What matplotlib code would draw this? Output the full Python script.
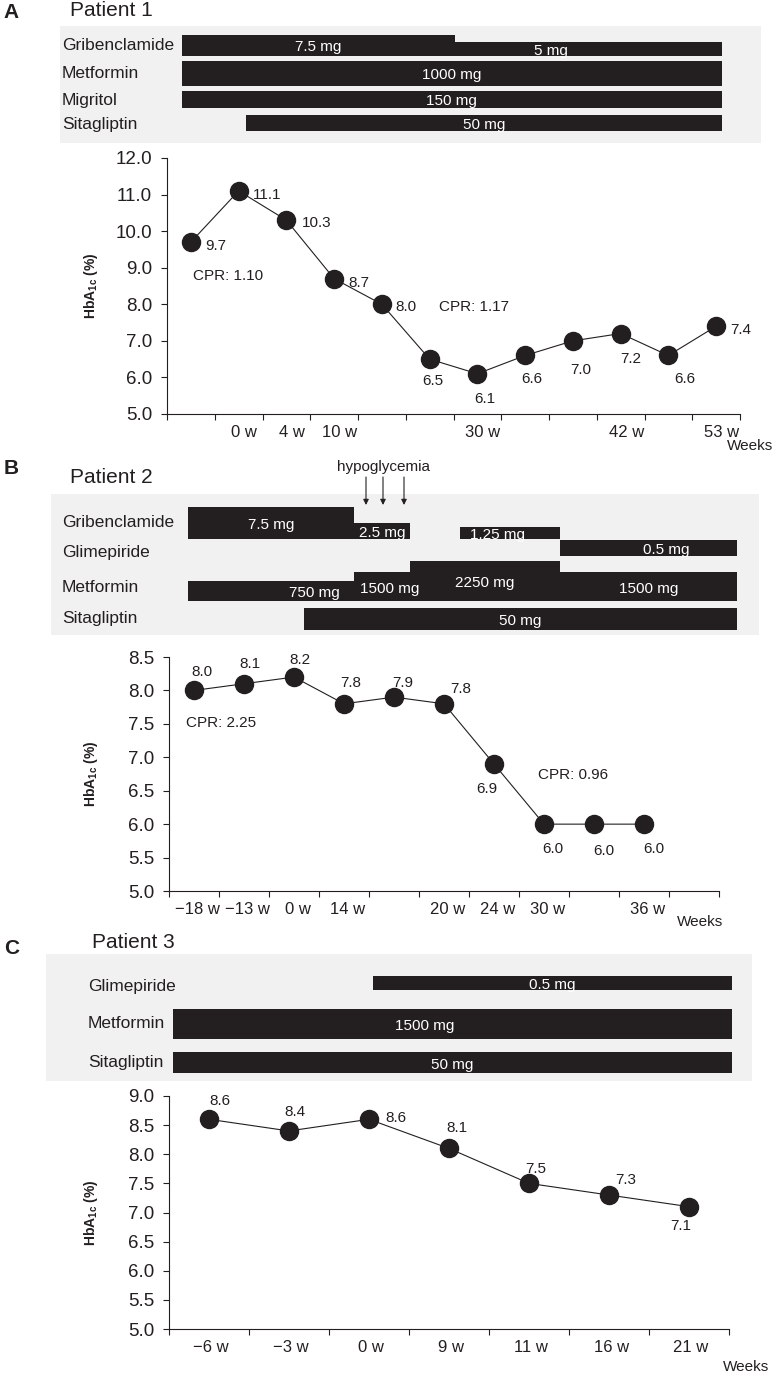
"""HbA1c course and drug regimens for three patients."""
import matplotlib.pyplot as plt
import numpy as np
from matplotlib.transforms import ScaledTranslation

plt.rcParams["font.family"] = ["Liberation Sans", "DejaVu Sans"]
plt.rcParams["mathtext.fontset"] = "custom"
plt.rcParams["mathtext.rm"] = "Liberation Sans"
plt.rcParams["mathtext.bf"] = "Liberation Sans:bold"

W, H = 775, 1373
INK = "#231f20"
BOX = "#f1f1f2"

# ---- Patient 1 ----
p1_weeks = ["", "0 w", "4 w", "10 w", "", "", "30 w", "", "", "42 w", "", "53 w"]
p1_hba1c = [9.7, 11.1, 10.3, 8.7, 8.0, 6.5, 6.1, 6.6, 7.0, 7.2, 6.6, 7.4]
p1_cpr = ["CPR: 1.10", "CPR: 1.17"]
p1_drugs = ["Gribenclamide", "Metformin", "Migritol", "Sitagliptin"]
p1_seg_drug = [0, 0, 1, 2, 3]
p1_seg_start = [-0.19, 5.53, -0.19, -0.19, 1.15]
p1_seg_end = [5.53, 11.12, 11.12, 11.12, 11.12]
p1_seg_dose = ["7.5 mg", "5 mg", "1000 mg", "150 mg", "50 mg"]

# ---- Patient 2 ----
p2_weeks = ["\u221218 w", "\u221213 w", "0 w", "14 w", "", "20 w", "24 w", "30 w", "", "36 w", ""]
p2_hba1c = [8.0, 8.1, 8.2, 7.8, 7.9, 7.8, 6.9, 6.0, 6.0, 6.0]
p2_cpr = ["CPR: 2.25", "CPR: 0.96"]
p2_drugs = ["Gribenclamide", "Glimepiride", "Metformin", "Sitagliptin"]
p2_seg_drug = [0, 0, 0, 1, 2, 2, 2, 2, 3]
p2_seg_start = [-0.12, 3.2, 5.32, 7.32, -0.12, 3.2, 4.32, 7.32, 2.2]
p2_seg_end = [3.2, 4.32, 7.32, 10.86, 3.2, 4.32, 7.32, 10.86, 10.86]
p2_seg_dose = ["7.5 mg", "2.5 mg", "1.25 mg", "0.5 mg", "750 mg", "1500 mg",
               "2250 mg", "1500 mg", "50 mg"]
p2_hypo_at = [3.44, 3.78, 4.2]

# ---- Patient 3 ----
p3_weeks = ["\u22126 w", "\u22123 w", "0 w", "9 w", "11 w", "16 w", "21 w"]
p3_hba1c = [8.6, 8.4, 8.6, 8.1, 7.5, 7.3, 7.1]
p3_drugs = ["Glimepiride", "Metformin", "Sitagliptin"]
p3_seg_drug = [0, 1, 2]
p3_seg_start = [2.05, -0.45, -0.45]
p3_seg_end = [6.54, 6.54, 6.54]
p3_seg_dose = ["0.5 mg", "1500 mg", "50 mg"]

# layout (pixels from top-left) and label placement
LAY1 = dict(box=(60, 26, 761, 143), chart=(167, 158, 740, 414), ylim=(5, 12), ystep=1.0,
            row_bottom=[56, 86, 108, 131], row_label_y=[45, 73, 100, 124], label_x=62,
            seg_h=[21, 14, 25, 17, 16], seg_frac=[0.5, 0.36, 0.5, 0.5, 0.5],
            off=[(10, -3), (10, -3), (11, -2), (10, -3), (10, -2), (2, -16), (5, -18),
                 (5, -17), (6, -21), (7, -18), (12, -17), (10, -3)],
            cpr_xy=[(0.04, 8.77), (5.2, 7.93)], xshift=4,
            letter=("A", 3, 13), title=("Patient 1", 70, 11), weeks=(727, 446))
LAY2 = dict(box=(51, 494, 759, 635), chart=(169, 657, 719, 891), ylim=(5, 8.5), ystep=0.5,
            row_bottom=[539, 556, 601, 630], row_label_y=[523, 553, 587, 619], label_x=62,
            seg_h=[32, 16, 12, 16, 20, 29, 40, 29, 22],
            seg_frac=[0.5, 0.5, 0.37, 0.6, 0.76, 0.63, 0.5, 0.5, 0.5],
            off=[(6, 13), (4, 14), (4, 12), (5, 15), (6, 10), (12, 11), (-5, -18),
                 (6, -18), (7, -19), (7, -18)],
            cpr_xy=[(-0.16, 7.51), (6.88, 6.73)], xshift=2.5,
            letter=("B", 4, 469), title=("Patient 2", 70, 477), weeks=(677, 922))
LAY3 = dict(box=(46, 954, 752, 1081), chart=(169, 1096, 729, 1329), ylim=(5, 9), ystep=0.5,
            row_bottom=[990, 1039, 1073], row_label_y=[986, 1023, 1062], label_x=88,
            seg_h=[14, 30, 21], seg_frac=[0.5, 0.45, 0.5],
            off=[(8, 13), (4, 14), (12, 1), (6, 15), (5, 10), (12, 11), (-6, -14)],
            cpr_xy=[], xshift=1.5,
            letter=("C", 4, 948), title=("Patient 3", 92, 943), weeks=(723, 1367))


def px_axes(fig, left, top, right, bottom):
    return fig.add_axes([left / W, 1 - bottom / H, (right - left) / W, (bottom - top) / H])


def px_text(fig, x, y, s, **kw):
    return fig.text(x / W, 1 - y / H, s, **kw)


def draw_chart(fig, lay, weeks, values, cpr):
    ax = px_axes(fig, *lay["chart"])
    n = len(weeks)
    xs = np.arange(len(values))
    ax.plot(xs, values, color=INK, lw=0.8, marker="o", ms=13, mfc=INK, mec=INK,
            clip_on=False, zorder=3)
    ax.set_xlim(-0.5, n - 0.5)
    ax.set_ylim(lay["ylim"])

    ax.set_xticks(np.arange(n))
    ax.set_xticklabels(weeks, fontsize=12, color=INK)
    ax.set_xticks(np.arange(n + 1) - 0.5, minor=True)
    ax.tick_params(axis="x", which="major", length=0, pad=8)
    ax.tick_params(axis="x", which="minor", length=4.3, width=0.8, color=INK)
    shift = ScaledTranslation(lay["xshift"] / 72, 0, fig.dpi_scale_trans)
    for lab in ax.get_xticklabels():
        lab.set_transform(lab.get_transform() + shift)

    lo, hi = lay["ylim"]
    yt = np.arange(lo, hi + 1e-9, lay["ystep"])
    ax.set_yticks(yt)
    ax.set_yticklabels([f"{v:.1f}" for v in yt], fontsize=13.5, color=INK)
    ax.tick_params(axis="y", length=4.3, width=0.8, color=INK, pad=6.5)

    for side in ("top", "right"):
        ax.spines[side].set_visible(False)
    for side in ("left", "bottom"):
        ax.spines[side].set_linewidth(0.8)
        ax.spines[side].set_color(INK)

    for i, v in enumerate(values):
        dx, dy = lay["off"][i]
        ax.annotate(f"{v:.1f}", (i, v), xytext=(dx, dy), textcoords="offset points",
                    ha="left" if abs(dy) < 5 else "center", va="center",
                    fontsize=11, color=INK)
    for s, (cx, cy) in zip(cpr, lay["cpr_xy"]):
        ax.text(cx, cy, s, fontsize=11, color=INK, ha="left", va="center")

    cl, ct, cr, cb = lay["chart"]
    px_text(fig, 91, (ct + cb) / 2, r"HbA$_{\mathbf{1c}}$ (%)", rotation=90,
            ha="center", va="center", fontsize=10, fontweight="bold", color=INK)
    px_text(fig, *lay["weeks"], "Weeks", ha="left", va="center", fontsize=11, color=INK)
    return ax


def draw_regimen(fig, lay, chart_ax, drugs, seg_drug, seg_start, seg_end, seg_dose):
    bl, bt, br, bb = lay["box"]
    cl, _, cr, _ = lay["chart"]
    x0, x1 = chart_ax.get_xlim()
    scale = (cr - cl) / (x1 - x0)
    ax = px_axes(fig, bl, bt, br, bb)
    ax.set_xlim(x0 - (cl - bl) / scale, x1 + (br - cr) / scale)
    ax.set_ylim(bb - bt, 0)
    ax.set_facecolor(BOX)
    ax.set_xticks([])
    ax.set_yticks([])
    for sp in ax.spines.values():
        sp.set_visible(False)

    for k, d in enumerate(seg_drug):
        base = lay["row_bottom"][d] - bt
        h = lay["seg_h"][k]
        ax.bar(seg_start[k], -h, width=seg_end[k] - seg_start[k], bottom=base,
               align="edge", color=INK, lw=0)
        tx = seg_start[k] + lay["seg_frac"][k] * (seg_end[k] - seg_start[k])
        ax.text(tx, base - h / 2 + 2, seg_dose[k], color="white", ha="center",
                va="center", fontsize=11)

    for name, y in zip(drugs, lay["row_label_y"]):
        px_text(fig, lay["label_x"], y, name, ha="left", va="center", fontsize=12.5, color=INK)

    letter, lx, ly = lay["letter"]
    px_text(fig, lx, ly, letter, ha="left", va="center", fontsize=15, fontweight="bold", color=INK)
    title, tx, ty = lay["title"]
    px_text(fig, tx, ty, title, ha="left", va="center", fontsize=15, color=INK)
    return ax


fig = plt.figure(figsize=(W / 100, H / 100), dpi=100)

ax1 = draw_chart(fig, LAY1, p1_weeks, p1_hba1c, p1_cpr)
draw_regimen(fig, LAY1, ax1, p1_drugs, p1_seg_drug, p1_seg_start, p1_seg_end, p1_seg_dose)

ax2 = draw_chart(fig, LAY2, p2_weeks, p2_hba1c, p2_cpr)
reg2 = draw_regimen(fig, LAY2, ax2, p2_drugs, p2_seg_drug, p2_seg_start, p2_seg_end, p2_seg_dose)
top2 = LAY2["box"][1]
for x in p2_hypo_at:
    reg2.annotate("", xy=(x, 505 - top2), xytext=(x, 477 - top2), annotation_clip=False,
                  arrowprops=dict(arrowstyle="-|>", lw=0.8, color=INK, mutation_scale=8,
                                  shrinkA=0, shrinkB=0))
px_text(fig, 384, 467, "hypoglycemia", ha="center", va="center", fontsize=11, color=INK)

ax3 = draw_chart(fig, LAY3, p3_weeks, p3_hba1c, [])
draw_regimen(fig, LAY3, ax3, p3_drugs, p3_seg_drug, p3_seg_start, p3_seg_end, p3_seg_dose)

fig.savefig("out.png", dpi=100)
